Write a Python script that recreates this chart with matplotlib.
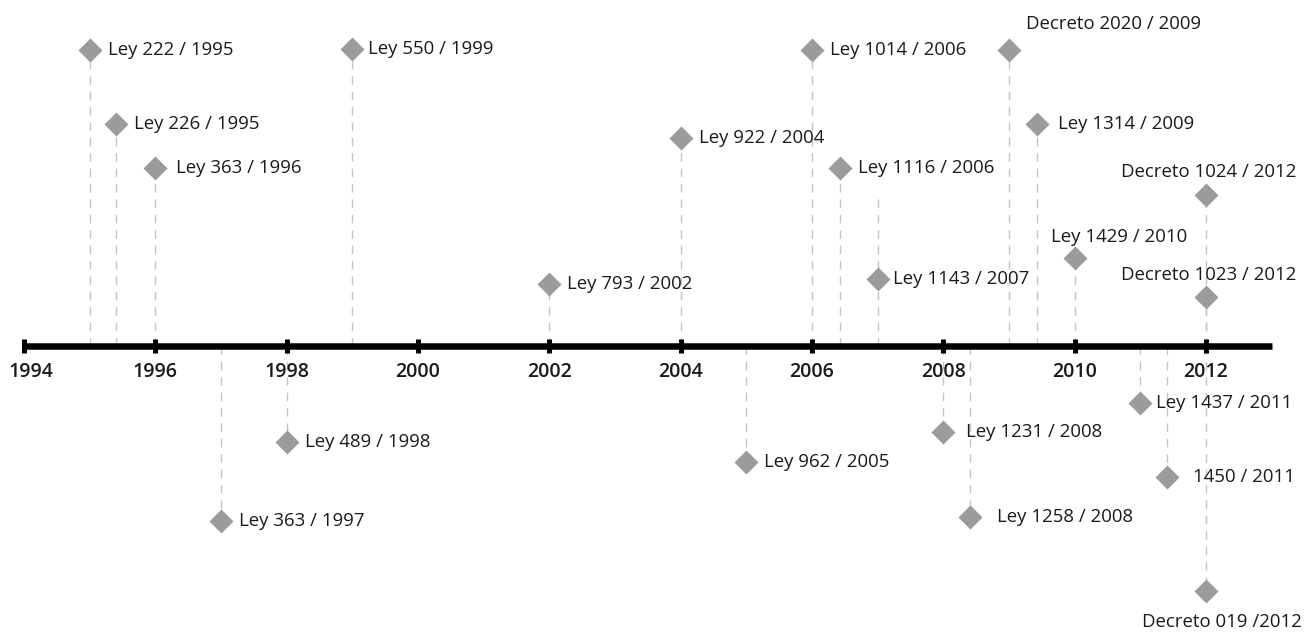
import matplotlib
matplotlib.use("Agg")
import matplotlib.pyplot as plt

plt.rcParams['font.family'] = ['Open Sans', 'DejaVu Sans']

# ---- data ----
labels = ["Ley 222 / 1995", "Ley 226 / 1995", "Ley 363 / 1996", "Ley 550 / 1999",
          "Ley 793 / 2002", "Ley 922 / 2004", "Ley 1014 / 2006", "Ley 1116 / 2006",
          "Ley 1143 / 2007", "Decreto 2020 / 2009", "Ley 1314 / 2009", "Ley 1429 / 2010",
          "Decreto 1024 / 2012", "Decreto 1023 / 2012",
          "Ley 363 / 1997", "Ley 489 / 1998", "Ley 962 / 2005", "Ley 1231 / 2008",
          "Ley 1258 / 2008", "Ley 1437 / 2011", "1450 / 2011", "Decreto 019 /2012"]
dates = [1995.0, 1995.4, 1996.0, 1999.0,
         2002.0, 2004.0, 2006.0, 2006.43,
         2007.0, 2009.0, 2009.43, 2010.0,
         2012.0, 2012.0,
         1997.0, 1998.0, 2005.0, 2008.0,
         2008.4, 2011.0, 2011.4, 2012.0]
levels = [296, 222, 178, 297,
          62, 208, 296, 178,
          67, 296, 222, 88,
          151, 49,
          -175, -96, -116, -86,
          -171, -57, -131, -245]
year_ticks = [1994, 1996, 1998, 2000, 2002, 2004, 2006, 2008, 2010, 2012]

# ---- layout (label placement) ----
# mode: 'ar' above-right, 'a' above, 'b' below; (dx, dy) offsets in px
place = {
    "Decreto 2020 / 2009": ('ar', 17, 26),
    "Ley 1429 / 2010": ('a', 44, 21),
    "Decreto 1024 / 2012": ('a', 3, 23),
    "Decreto 1023 / 2012": ('a', 3, 22),
    "Decreto 019 /2012": ('b', 16, -31),
}
right_dx = {"Ley 1231 / 2008": 23, "Ley 1258 / 2008": 27, "1450 / 2011": 26,
            "Ley 1143 / 2007": 15, "Ley 550 / 1999": 16, "Ley 1437 / 2011": 16,
            "Ley 363 / 1996": 21, "Ley 1314 / 2009": 21}
line_top = {"Ley 1143 / 2007": 151}
year_dx = {1994: 7}

W, H = 1309, 632
fig = plt.figure(figsize=(W / 100, H / 100), dpi=100)
ax = fig.add_axes([0, 0, 1, 1])
ppy = (1206 - 24) / 18.0
x0 = 1994 - 24 / ppy
ax.set_xlim(x0, x0 + W / ppy)
ax.set_ylim(346 - H, 346)
ax.axis('off')

px = 72 / 100.0  # points per pixel

gray_line = '#c4c4c4'
gray_marker = '#9b9b9b'
txt_color = '#1a1a1a'
fs = 13.4

for lab, d, lv in zip(labels, dates, levels):
    top = line_top.get(lab, lv)
    ax.plot([d, d], [0, top], color=gray_line, lw=1.4 * px, ls=(0, (6, 5)), zorder=1,
            solid_capstyle='butt', dash_capstyle='butt')
    ax.plot([d], [lv], marker='D', ms=12.5, color=gray_marker, mec='none', zorder=3)
    if lab in place:
        mode, dx, dy = place[lab]
        ha = 'left' if mode == 'ar' else 'center'
        ax.annotate(lab, (d, lv), xytext=(dx * px, dy * px), textcoords='offset points',
                    ha=ha, va='center', fontsize=fs, color=txt_color)
    else:
        dx = right_dx.get(lab, 18)
        ax.annotate(lab, (d, lv), xytext=(dx * px, 0), textcoords='offset points',
                    ha='left', va='center', fontsize=fs, color=txt_color)

# main axis line
ax.plot([1994 - 2 / ppy, 1994 + (1272 - 24) / ppy], [0, 0], color='black', lw=6.5 * px,
        solid_capstyle='butt', zorder=2)
for yr in year_ticks:
    ax.plot([yr, yr], [-7, 7], color='black', lw=5 * px, solid_capstyle='butt', zorder=2)
    ax.annotate(str(yr), (yr, 0), xytext=(year_dx.get(yr, 0) * px, -26 * px),
                textcoords='offset points', ha='center', va='center',
                fontsize=14, fontweight='semibold', color=txt_color)

fig.savefig('out.png', dpi=100)
